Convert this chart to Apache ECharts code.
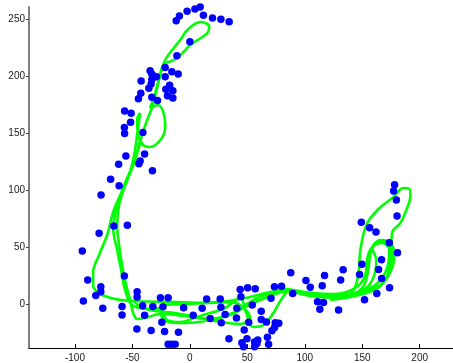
<!DOCTYPE html>
<html><head><meta charset="utf-8">
<script src="https://cdn.jsdelivr.net/npm/echarts@6/dist/echarts.min.js"></script>
<style>html,body{margin:0;padding:0;background:#fff}#c{width:453px;height:363px}</style>
</head><body><div id="c"></div>
<script>
const xTicks = [-100, -50, 0, 50, 100, 150, 200];
const yTicks = [0, 50, 100, 150, 200, 250];

const dots = [[-11.9,249.0],[-9.1,253.1],[-2.4,257.2],[4.4,259.2],[9.0,261.0],[11.8,253.7],[19.7,251.3],[27.0,250.2],[34.2,248.1],[0,230.5],[-11.3,218.2],[-21.5,207.8],[-34.6,205.0],[-15.7,204.1],[-10.2,202.1],[-33.1,202.1],[-29.1,199.7],[-21.5,199.7],[-33.1,197.3],[-42.4,196.0],[-33.7,193.3],[-17.6,192.3],[-35.7,189.5],[-20.9,188.7],[-14.8,187.4],[-42.7,185.1],[-19.5,183.0],[-44.8,180.4],[-33.1,181.6],[-14.8,181.0],[-28.2,178.8],[-56.8,169.6],[-51.1,167.6],[-51.6,159.7],[-57.0,155.1],[-56.8,149.8],[-40.9,150.7],[-55.7,130.1],[-39.4,131.8],[-62.0,122.8],[-43.3,125.7],[-44.4,123.3],[-32.6,117.0],[-69.0,109.6],[-61.6,104.0],[-77.3,95.8],[-66.2,68.5],[-54.4,69.2],[-79.0,62.1],[-93.6,46.6],[-88.9,21.1],[-57.0,24.6],[-77.5,15.2],[-77.5,10.7],[-81.9,7.5],[-92.7,2.6],[-75.8,-3.8],[-59.0,-2.2],[-59.0,-9.7],[-45.9,10.8],[-45.9,6.2],[-41.1,-1.5],[-32.2,-2.2],[-25.6,5.5],[-18.9,5.5],[-23.4,-2.4],[-39.4,-9.9],[-24.4,-16.0],[-46.1,-22.0],[-33.7,-23.3],[-22.0,-24.3],[-9.9,-24.9],[-5.4,-3.3],[2.9,-9.9],[-18.9,-35.4],[-15.9,-35.4],[-12.8,-35.4],[10.7,-3.7],[14.6,4.4],[17.7,-12.7],[26.4,4.4],[27.0,-2.9],[30.7,-9.2],[27.3,-16.4],[34.0,-30.5],[40.6,-12.3],[40.9,-3.8],[43.8,12.7],[50.3,14.3],[56.9,13.4],[44.4,6.3],[54.3,-0.9],[62.1,-6.3],[51.2,-16.0],[47.3,-22.8],[45.3,-34.0],[46.7,-37.5],[49.7,-30.6],[56.3,-33.4],[56.3,-37.5],[59.1,-31.6],[58.4,-34.7],[68.5,-35.4],[67.5,-29.3],[71.4,-23.5],[73.7,-20.7],[74.3,-16.4],[77.4,-17.0],[66.7,-15.8],[62.1,-13.6],[70.6,5.1],[73.6,15.1],[79.8,15.6],[87.8,27.5],[89.5,9.2],[101.0,20.7],[104.8,14.7],[111.1,1.9],[116.3,1.3],[113.1,-4.6],[117.2,25.0],[115.2,16.1],[129.4,-5.3],[131.2,21.1],[133.4,30.1],[147.7,25.9],[149.7,34.9],[152.0,3.8],[164.2,30.3],[166.8,38.9],[166.9,22.4],[162.7,9.1],[173.8,14.2],[180.7,45.1],[173.6,53.9],[149.2,71.8],[156.4,67.0],[162.0,63.3],[178.2,104.8],[177.3,99.3],[179.7,91.4],[180.3,77.3]];

const traj1 = [[-21.5,211.8],[-11.1,216.2],[0.3,227.6],[15.1,238.1],[16.8,244.3],[9.0,247.8],[-1.5,241.6],[-8.4,232.0],[-15.4,223.2],[-21.5,214.4],[-25.9,201.2],[-29.4,186.3],[-32.8,173.1],[-37.2,161.7],[-41.6,148.5],[-45.0,135.3],[-49.4,122.1],[-54.6,110.7],[-60.6,95.8],[-66.8,80.8],[-72.0,60.6],[-79.0,43.1],[-84.2,28.1],[-84.2,16.7],[-78.1,8.8],[-65.1,4.4],[-47.6,2.6],[-17.2,1.8],[17.7,0.9],[48.2,5.3],[69.9,10.5],[84.8,13.2],[96.1,10.5],[113.5,7.0],[130.9,7.0],[141.4,10.5],[146.6,25.5],[148.4,47.5],[153.6,69.4],[163.2,82.6],[177.2,94.0],[185.8,101.9],[191.0,101.1],[191.9,94.9],[188.4,82.6],[183.2,71.2],[176.2,63.3],[175.3,51.8],[174.5,36.9],[171.0,22.8],[162.3,13.2],[144.0,7.0],[122.2,3.5]];

const traj2 = [[-24.1,208.3],[-27.6,195.1],[-31.1,181.9],[-34.6,172.2],[-27.6,174.9],[-22.4,166.1],[-21.5,155.5],[-25.0,145.0],[-34.6,138.0],[-40.7,139.7],[-45.0,148.5],[-45.9,161.7],[-43.3,167.8],[-45.9,148.5],[-48.5,130.9],[-52.0,116.0],[-57.2,101.9],[-61.6,87.0],[-63.3,69.4],[-61.6,51.8],[-59.0,34.3],[-55.5,16.7],[-52.0,3.5],[-49.4,-7.9],[-45.9,-13.2],[-38.9,-12.3],[-25.9,-8.8],[-4.1,-10.5],[17.7,-13.2],[39.5,-7.9],[48.2,-0.9],[61.2,6.2],[83.0,11.4],[104.8,7.0],[130.9,5.3],[148.4,10.5],[158.8,21.1],[162.3,38.7],[158.8,49.2],[164.0,54.5],[172.7,52.7],[176.2,40.4],[172.7,25.5],[164.0,14.9],[148.4,8.8],[130.9,6.2]];

const traj3 = [[-43.3,144.1],[-49.4,122.1],[-58.1,100.2],[-64.2,82.6],[-66.8,66.8],[-63.3,47.5],[-59.8,29.9],[-56.4,12.3],[-50.3,-0.9],[-34.6,-4.4],[-25.9,-3.5],[-19.8,-14.1],[-8.4,-15.8],[9.0,-10.5],[30.7,-3.5],[43.8,5.3],[49.0,-7.9],[55.1,-20.2],[63.9,-18.5],[72.6,-7.9],[80.4,5.3],[87.4,12.3],[104.8,9.7],[126.6,8.8],[144.0,14.1],[152.7,25.5],[154.4,40.4],[158.8,50.1],[167.5,53.6],[173.6,47.5],[171.0,29.9],[161.4,16.7],[144.0,9.7],[122.2,6.2]];

const traj4 = [[-49.4,3.5],[-43.3,-2.6],[-30.2,-6.2],[-12.8,-7.9],[4.6,-11.4],[22.0,-14.9],[43.8,-17.6],[52.5,-12.3],[43.8,-0.9],[30.7,1.8],[0.3,0],[-21.5,-0.9],[-25.9,-7.0],[-18.9,-15.8],[-4.1,-16.7],[17.7,-14.1],[39.5,-7.0],[61.2,3.5],[87.4,11.4],[113.5,8.8],[135.3,7.0],[150.1,14.1],[155.3,29.9],[157.9,47.5],[165.8,56.2],[174.5,53.6],[178.0,43.1],[174.5,28.1],[165.8,16.7],[148.4,9.7]];

const trajs = [traj1, traj2, traj3, traj4];

const chart = echarts.init(document.getElementById('c'), null, {renderer: 'canvas'});
const font = {fontFamily: 'Liberation Sans, Arial, sans-serif', fontSize: 10, color: '#1a1a1a'};
const lineSeries = trajs.map(t => ({
  type: 'line', data: t, smooth: 0.35, symbol: 'none', clip: false,
  lineStyle: {color: '#00ff00', width: 2.6}, z: 2, animation: false
}));
chart.setOption({
  animation: false,
  grid: {left: 29, right: 0, top: 7, bottom: 15, containLabel: false},
  xAxis: {
    type: 'value', min: -140, max: 229,
    axisLine: {show: true, onZero: false, lineStyle: {color: '#000', width: 1}},
    axisTick: {show: true, inside: true, length: 4, lineStyle: {color: '#000'}, customValues: xTicks},
    axisLabel: Object.assign({margin: 5, customValues: xTicks}, font),
    splitLine: {show: false}
  },
  yAxis: {
    type: 'value', min: -38.7, max: 261,
    axisLine: {show: true, onZero: false, lineStyle: {color: '#808080', width: 2}},
    axisTick: {show: true, inside: false, length: 3, lineStyle: {color: '#444'}, customValues: yTicks},
    axisLabel: Object.assign({margin: 4, customValues: yTicks}, font),
    splitLine: {show: false}
  },
  series: lineSeries.concat([{
    type: 'scatter', data: dots, symbol: 'circle', symbolSize: 7.5, clip: false,
    itemStyle: {color: '#0000ff', opacity: 1}, z: 3
  }])
});
</script></body></html>
